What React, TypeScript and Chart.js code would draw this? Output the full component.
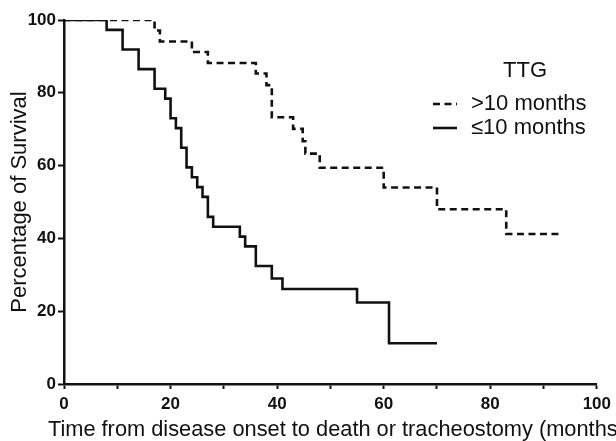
import React, { useEffect, useRef } from 'react';
import { Chart, registerables } from 'chart.js';

Chart.register(...registerables);

// >10 months group (Kaplan–Meier steps: time in months, survival %)
const longTimes = [0, 17, 18, 24, 27, 36, 38, 39, 43, 44.8, 45.3, 48, 60, 70, 83, 93];
const longSurvival = [100, 97.1, 94.1, 91.2, 88.2, 85.3, 82.1, 73.3, 70.1, 66.7, 63.3, 59.4, 54.0, 48.0, 41.2, 41.2];

// ≤10 months group
const shortTimes = [0, 8, 11, 14, 17, 19, 20, 21, 22, 23, 24, 25, 26, 27, 28, 33, 34, 36, 39, 41, 55, 61, 70];
const shortSurvival = [100, 97.3, 91.9, 86.5, 81.1, 78.4, 73.0, 70.3, 64.9, 59.5, 56.8, 54.1, 51.4, 45.9, 43.2, 40.5, 37.8, 32.4, 29.0, 26.1, 22.4, 11.2, 11.2];

const seriesLabels = ['>10 months', '≤10 months'];
const legendTitle = 'TTG';
const xTitle = 'Time from disease onset to death or tracheostomy (months)';
const yTitle = 'Percentage of Survival';
const xLabelEvery = 20;

const FONT = "'Liberation Sans', Arial, Helvetica, sans-serif";
const INK = '#111';

const legendPlugin = {
  id: 'kmLegend',
  afterDraw(chart: any) {
    const ctx = chart.ctx;
    const area = chart.chartArea;
    ctx.save();
    ctx.fillStyle = INK;
    // x-axis title (allowed to run past the plot width, like the reference)
    ctx.font = `21.8px ${FONT}`;
    ctx.textBaseline = 'middle';
    ctx.textAlign = 'center';
    ctx.fillText(xTitle, (area.left + area.right) / 2 + 6, 429.5);
    // legend
    ctx.font = `22px ${FONT}`;
    ctx.fillText(legendTitle, 525, 71);
    const rows = [104, 128];
    chart.data.datasets.forEach((ds: any, i: number) => {
      const y = rows[i];
      ctx.beginPath();
      ctx.strokeStyle = ds.borderColor;
      ctx.lineWidth = ds.borderWidth;
      ctx.setLineDash(ds.borderDash || []);
      ctx.moveTo(433, y);
      ctx.lineTo(457, y);
      ctx.stroke();
      ctx.setLineDash([]);
      ctx.textAlign = 'left';
      ctx.fillText(ds.label, 471, y);
    });
    ctx.restore();
  },
};

export default function App() {
  const ref = useRef<HTMLCanvasElement | null>(null);

  useEffect(() => {
    document.body.style.margin = '0';
    const canvas = ref.current;
    if (!canvas) return;
    const chart = new Chart(canvas, {
      type: 'line',
      data: {
        datasets: [
          {
            label: seriesLabels[0],
            data: longTimes.map((t, i) => ({ x: t, y: longSurvival[i] })),
            borderColor: INK,
            borderWidth: 2.6,
            borderDash: [7, 4.5],
            stepped: 'before',
            pointRadius: 0,
            fill: false,
          },
          {
            label: seriesLabels[1],
            data: shortTimes.map((t, i) => ({ x: t, y: shortSurvival[i] })),
            borderColor: INK,
            borderWidth: 2.6,
            stepped: 'before',
            pointRadius: 0,
            fill: false,
          },
        ],
      },
      options: {
        animation: false,
        responsive: false,
        devicePixelRatio: 1,
        layout: { padding: { top: 20, right: 18, left: 0, bottom: 0 } },
        plugins: {
          legend: { display: false },
          tooltip: { enabled: false },
        },
        scales: {
          x: {
            type: 'linear',
            min: 0,
            max: 100,
            afterFit: (s: any) => { s.height = 57; },
            ticks: {
              stepSize: 10,
              color: INK,
              padding: 5,
              maxRotation: 0,
              autoSkip: false,
              font: { family: FONT, size: 17, weight: 'bold' },
              callback: (v: any) => (Number(v) % xLabelEvery === 0 ? String(v) : ''),
            },
            grid: {
              drawOnChartArea: false,
              drawTicks: true,
              tickLength: 5,
              tickWidth: 2,
              tickColor: INK,
            },
            border: { display: true, color: INK, width: 2.5 },
            title: { display: false },
          },
          y: {
            type: 'linear',
            min: 0,
            max: 100,
            afterFit: (s: any) => { s.width = 64; },
            ticks: {
              stepSize: 20,
              color: INK,
              padding: 2,
              font: { family: FONT, size: 17, weight: 'bold' },
            },
            grid: {
              drawOnChartArea: false,
              drawTicks: true,
              tickLength: 6,
              tickWidth: 2,
              tickColor: INK,
            },
            border: { display: true, color: INK, width: 2.5 },
            title: {
              display: true,
              text: yTitle,
              color: INK,
              font: { family: FONT, size: 22, lineHeight: 1.2 },
              padding: { top: 7, bottom: 0 },
            },
          },
        },
      },
      plugins: [legendPlugin],
    });
    return () => chart.destroy();
  }, []);

  return (
    <div style={{ position: 'fixed', left: 0, top: 0, width: 616, height: 441, background: '#fff' }}>
      <canvas ref={ref} width={616} height={441} style={{ width: 616, height: 441, display: 'block' }} />
    </div>
  );
}
